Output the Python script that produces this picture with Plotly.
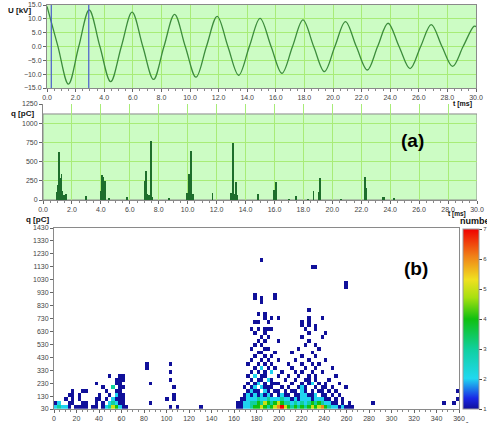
import plotly.graph_objects as go

# ---------------- Panel (a) top: test voltage ----------------
u_t = [0, 0.75, 1.5, 2.22, 2.95, 3.7, 4.45, 5.2, 5.95, 6.7, 7.45, 8.18, 8.92, 9.67,
       10.42, 11.15, 11.9, 12.65, 13.4, 14.15, 14.9, 15.67, 16.43, 17.17, 17.9, 18.65,
       19.4, 20.13, 20.87, 21.63, 22.4, 23.12, 23.85, 24.62, 25.39, 26.13, 26.87, 27.62,
       28.36, 29.1, 29.85, 30.0]
u_kv = [14.5, 0.3, -13.6, 0, 13.2, 0, -12.7, 0, 12.4, 0, -11.9, 0, 11.6, 0,
        -11.1, 0, 10.9, 0, -10.4, 0, 10.2, 0, -9.7, 0, 9.6, 0,
        -9.1, 0, 9.0, 0, -8.5, 0, 8.4, 0, -8.0, 0, 7.9, 0,
        -7.2, 0, 7.3, 7.2]
cursor_t = [0.3, 2.92]

# ---------------- Panel (a) bottom: PD pulses ----------------
pd_t = [0.98, 1.05, 1.12, 1.2, 1.28, 1.35, 1.45, 1.6, 3.0,
        3.99, 4.04, 4.1, 4.17, 4.29, 4.56, 5.83,
        7.04, 7.13, 7.2, 7.3, 7.48, 7.53, 8.69,
        9.95, 10.11, 10.18, 10.23, 10.34, 11.72,
        13.0, 13.12, 13.2, 13.35, 13.42,
        14.89, 15.97, 16.05, 16.11, 17.0, 17.5, 18.3, 18.7, 19.1, 19.13, 20.6,
        22.25, 22.3, 23.5, 23.6, 24.27]
pd_q = [100, 200, 630, 290, 340, 120, 60, 80, 57,
        122, 240, 327, 297, 250, 20, 44,
        244, 380, 74, 65, 772, 44, 22,
        96, 340, 105, 632, 74, 96,
        87, 742, 74, 240, 65,
        74, 131, 52, 236, 10, 52, 10, 113, 100, 284, 10,
        297, 153, 44, 44, 22]

# ---------------- Panel (b): phase-resolved PD pattern ----------------
# rows of the 2D histogram: charge of the row, phases of occupied cells, counts ([] = all 1)
row_charge = [45, 75, 105, 135, 165, 195, 225, 255, 285,
              45, 75, 105, 135, 165, 195, 225, 255, 285, 315, 345, 375, 405, 435,
              465, 495, 525, 555, 585, 615, 645, 675, 705, 735, 765, 795, 855, 885,
              915, 975, 1005, 1125, 1185]
row_phase = [
    # left cluster + scattered middle + right side
    [1, 4, 7, 10, 13, 19, 22, 25, 28, 34, 37, 43, 46, 49, 52, 55, 58, 61, 64, 102, 108, 130],
    [1, 4, 13, 16, 25, 28, 37, 43, 49, 52, 55, 58, 61, 85, 163, 283, 347, 355],
    [10, 16, 22, 37, 40, 46, 52, 55, 58, 61, 100, 106, 357],
    [13, 16, 22, 40, 49, 55, 58, 61, 106],
    [16, 25, 28, 46, 55, 58, 358],
    [43, 52, 58, 61, 105],
    [37, 55, 58, 84],
    [55, 58, 61, 103],
    [49, 58, 61],
    # main cluster
    [163, 166, 169, 172, 175, 178, 181, 184, 187, 190, 193, 196, 199, 202, 205, 208, 211, 214,
     217, 220, 223, 226, 229, 232, 235, 238, 241, 244, 247, 250, 253, 256, 259, 262, 265],
    [166, 169, 172, 175, 178, 181, 184, 187, 190, 193, 196, 199, 202, 205, 208, 211, 214, 217,
     220, 223, 226, 229, 232, 235, 238, 241, 244, 247, 250, 256, 262],
    [166, 169, 172, 175, 178, 181, 184, 187, 190, 193, 196, 199, 202, 205, 208, 211, 214, 217,
     220, 223, 226, 229, 232, 235, 238, 241, 244, 250, 256],
    [169, 172, 175, 178, 181, 184, 187, 190, 193, 199, 202, 205, 208, 214, 217, 220, 223, 226,
     229, 232, 238, 241, 247, 253],
    [172, 175, 178, 181, 187, 190, 196, 199, 205, 211, 214, 220, 223, 229, 235, 238, 244, 250],
    [169, 175, 178, 184, 187, 190, 193, 202, 208, 217, 220, 223, 232, 238, 241, 247, 259],
    [172, 178, 181, 187, 193, 196, 199, 211, 220, 226, 229, 235, 241, 253],
    [175, 181, 184, 190, 193, 205, 214, 223, 226, 232, 244],
    [172, 178, 184, 187, 199, 208, 217, 226, 232, 250],
    [175, 181, 187, 193, 202, 214, 220, 229, 238, 104],
    [178, 184, 190, 196, 211, 223, 232, 247, 82],
    [172, 181, 187, 193, 208, 220, 229, 235, 81, 103],
    [175, 184, 190, 199, 214, 226, 241],
    [178, 187, 193, 220, 232],
    [181, 184, 196, 211, 229],
    [175, 187, 190, 217, 235],
    [178, 184, 223, 232],
    [181, 187, 199, 226],
    [184, 190, 220, 238],
    [178, 187, 226, 241],
    [175, 181, 187, 190, 193, 223, 232],
    [220, 226, 233],
    [178, 182, 191, 219, 226],
    [188, 194, 198, 226, 237],
    [182, 188],
    [226],
    [185],
    [179, 185, 197],
    [179, 197],
    [259],
    [259],
    [228, 231],
    [183],
]
row_count = [
    [2, 3, 2, 2, 1, 1, 1, 1, 1, 1, 1, 1, 2, 3, 5, 4, 2, 1, 1, 1, 1, 1],
    [1, 2, 1, 1, 1, 1, 1, 1, 2, 3, 2, 1, 1, 1, 1, 1, 1, 1],
    [1, 1, 1, 1, 1, 1, 2, 1, 1, 1, 1, 1, 1],
    [1, 1, 1, 1, 1, 2, 1, 1, 1],
    [],
    [1, 3, 1, 1, 1],
    [],
    [],
    [],
    [1, 1, 2, 2, 3, 4, 4, 5, 4, 3, 4, 5, 6, 7, 5, 4, 3, 4, 3, 4, 3, 4, 5, 4, 5, 6, 4, 3, 2, 2,
     1, 2, 1, 1, 1],
    [1, 2, 2, 3, 3, 4, 3, 5, 4, 3, 4, 5, 4, 3, 3, 2, 3, 2, 3, 2, 3, 4, 3, 4, 3, 2, 2, 1, 1, 1, 1],
    [1, 1, 2, 2, 2, 3, 2, 2, 3, 2, 2, 2, 3, 2, 2, 1, 2, 1, 2, 2, 2, 1, 2, 2, 2, 1, 1, 1, 1],
    [1, 2, 1, 2, 1, 2, 1, 2, 1, 1, 2, 1, 1, 1, 1, 2, 2, 1, 1, 2, 1, 1, 1, 1],
    [1, 2, 1, 1, 2, 1, 1, 1, 1, 1, 1, 2, 1, 1, 1, 1, 1, 1],
    [1, 1, 2, 2, 1, 1, 1, 1, 1, 1, 2, 1, 1, 1, 1, 1, 1],
    [1, 1, 2, 1, 1, 1, 1, 1, 1, 1, 2, 1, 1, 1],
    [1, 1, 1, 2, 1, 1, 1, 1, 1, 1, 1],
    [1, 2, 1, 1, 1, 1, 1, 1, 1, 1],
    [1, 1, 1, 2, 1, 1, 1, 1, 1, 1],
    [1, 2, 1, 1, 1, 1, 1, 1, 1],
    [], [], [], [], [], [], [], [], [], [], [], [], [], [], [], [], [], [], [], [], [], [],
]

phase_ticks = list(range(0, 361, 20))
charge_ticks = list(range(30, 1431, 100))
colorbar_ticks = [1, 2, 3, 4, 5, 6, 7]

# ---------- build the 2D histogram table ----------
PH_BIN, Q_BIN, Q0 = 3, 30, 30
n_cols = 360 // PH_BIN
n_rows = (1430 - Q0) // Q_BIN + 1
z = [[None] * n_cols for _ in range(n_rows)]
for q, phases, counts in zip(row_charge, row_phase, row_count):
    if not counts:
        counts = [1] * len(phases)
    ri = min(int((q - Q0) // Q_BIN), n_rows - 1)
    for p, c in zip(phases, counts):
        ci = min(int(p // PH_BIN), n_cols - 1)
        z[ri][ci] = c

W, H = 487, 423
def px(x):
    return x / W
def py(y):
    return 1 - y / H

BG = "#ccfcc4"
GRID = "#a8ec78"
FRAME = "#8a8a8a"
TICKF = dict(family="Liberation Sans, Arial", size=7, color="#444")

fig = go.Figure()

# panel 1
fig.add_trace(go.Scatter(x=u_t, y=u_kv, mode="lines",
                         line=dict(color="#3c8c3c", width=1.3, shape="spline", smoothing=1.0),
                         xaxis="x", yaxis="y", showlegend=False, hoverinfo="skip"))
for ct in cursor_t:
    fig.add_trace(go.Scatter(x=[ct, ct], y=[-15, 15], mode="lines", line=dict(color="#4a5ccc", width=1.2),
                             xaxis="x", yaxis="y", showlegend=False, hoverinfo="skip"))

# panel 2
fig.add_trace(go.Bar(x=pd_t, y=pd_q, width=0.06, marker=dict(color="#1e6e2c", line=dict(width=0)),
                     xaxis="x2", yaxis="y2", showlegend=False, hoverinfo="skip"))

# panel 3
colorscale = [
    [0.0, "#10109a"], [0.06, "#1a28e6"], [0.17, "#20d8f0"], [0.33, "#10d0a0"],
    [0.5, "#10c010"], [0.62, "#a8e010"], [0.72, "#f0e020"], [0.85, "#f08018"], [1.0, "#f00000"],
]
fig.add_trace(go.Heatmap(
    z=z, x0=PH_BIN / 2, dx=PH_BIN, y0=Q0 + Q_BIN / 2, dy=Q_BIN,
    zmin=1, zmax=7, colorscale=colorscale, xaxis="x3", yaxis="y3", hoverinfo="skip",
    colorbar=dict(x=px(463), xanchor="left", xpad=0, ypad=0, thickness=16,
                  len=(409 - 229) / H, lenmode="fraction",
                  y=py(409), yanchor="bottom", outlinewidth=1, outlinecolor="#999",
                  tickvals=colorbar_ticks, ticks="outside", ticklen=3,
                  tickfont=dict(family="Liberation Sans, Arial", size=6, color="#444")),
))

axis_common = dict(showline=True, linecolor=FRAME, linewidth=1, mirror=True, ticks="outside",
                   ticklen=3, tickcolor="#666", tickfont=TICKF, zeroline=False)
axis_nomirror = {k: v for k, v in axis_common.items() if k != "mirror"}

fig.update_layout(
    width=W, height=H, margin=dict(l=0, r=0, t=0, b=0, autoexpand=False),
    paper_bgcolor="white", plot_bgcolor="white",
    font=dict(family="Liberation Sans, Arial"),
    bargap=0,
    xaxis=dict(domain=[px(47), px(476)], range=[0, 30], dtick=2, tickformat=".1f", anchor="y",
               showgrid=True, gridcolor=GRID, gridwidth=1,
               minor=dict(dtick=0.5, ticklen=2, ticks="outside", tickcolor="#888", showgrid=False),
               **axis_common),
    yaxis=dict(domain=[py(88), py(5)], range=[-15, 15], dtick=5, tickformat=".1f", anchor="x",
               showgrid=True, gridcolor=GRID, gridwidth=1, **axis_common),
    xaxis2=dict(domain=[px(43), px(477)], range=[0, 30], dtick=2, tickformat=".1f", anchor="y2",
                showgrid=True, gridcolor=GRID, gridwidth=1,
                minor=dict(dtick=0.5, ticklen=2, ticks="outside", tickcolor="#888", showgrid=False),
                mirror=False, **axis_nomirror),
    yaxis2=dict(domain=[py(200), py(104)], range=[0, 1250], dtick=250, anchor="x2",
                showgrid=True, gridcolor=GRID, gridwidth=1, mirror=False, **axis_nomirror),
    xaxis3=dict(domain=[px(54), px(459)], range=[0, 360], tickvals=phase_ticks, anchor="y3",
                showgrid=False,
                minor=dict(dtick=5, ticklen=2, ticks="outside", tickcolor="#888", showgrid=False),
                **axis_common),
    yaxis3=dict(domain=[py(409), py(228)], range=[30, 1430], tickvals=charge_ticks, anchor="x3",
                showgrid=False, **axis_common),
    shapes=[
        dict(type="rect", xref="x2", yref="y2", x0=0, x1=30, y0=0, y1=1120, fillcolor=BG,
             line=dict(color=FRAME, width=1), layer="below"),
        dict(type="rect", xref="x", yref="y", x0=0, x1=30, y0=-15, y1=15, fillcolor=BG,
             line=dict(width=0), layer="below"),
    ],
)

ann_font = dict(family="Liberation Sans, Arial", size=8, color="#111")
anns = [
    dict(x=px(19), y=py(10.5), text="<b>U [kV]</b>", font=ann_font),
    dict(x=px(462), y=py(104), text="<b>t [ms]</b>", font=dict(ann_font, size=7)),
    dict(x=px(22), y=py(113), text="<b>q [pC]</b>", font=ann_font),
    dict(x=px(457), y=py(213.5), text="<b>t [ms]</b>", font=dict(ann_font, size=6.5)),
    dict(x=px(37), y=py(219), text="<b>q [pC]</b>", font=ann_font),
    dict(x=px(458), y=py(221), text="<b>number</b>", font=dict(ann_font, size=9), xanchor="left"),
    dict(x=px(464), y=py(418.5), text="<b>Φ°</b>", font=dict(ann_font, size=8), yanchor="top"),
    dict(x=px(412), y=py(141), text="<b>(a)</b>", font=dict(family="Liberation Sans, Arial", size=19, color="#000")),
    dict(x=px(416), y=py(268), text="<b>(b)</b>", font=dict(family="Liberation Sans, Arial", size=19, color="#000")),
]
for a in anns:
    a.setdefault("yanchor", "middle")
    a.setdefault("xanchor", "center")
    a.update(xref="paper", yref="paper", showarrow=False)
fig.update_layout(annotations=anns)

fig.write_html("out.html")
